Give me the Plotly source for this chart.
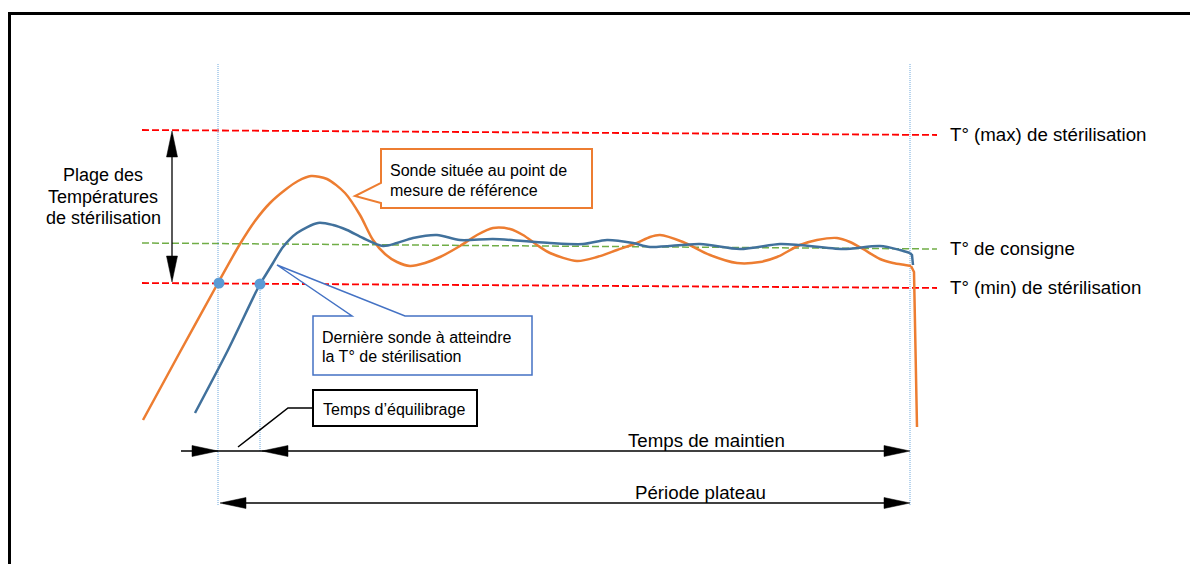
import plotly.graph_objects as go

# ---------------- data (schematic time / temperature values) ----------------
# Reference probe (orange) – time, temperature (screen-like units, axis reversed)
ref_t = [143, 180, 218, 240, 255, 270, 285, 298, 311, 327, 345, 360, 373, 385, 397, 410,
         425, 440, 460, 477, 493, 510, 523, 537, 550, 577, 597, 617, 637, 650, 660,
         683, 710, 737, 760, 777, 800, 817, 837, 850, 863, 880, 893, 905, 911]
ref_T = [420, 352, 283, 244, 221, 203, 190, 181, 176, 179, 193, 215, 240, 254, 262, 266,
         263, 257, 246, 235, 228, 229, 235, 245, 253, 261, 257, 250, 243, 237, 235,
         242, 255, 263, 262, 257, 245, 240, 238, 242, 249, 259, 263, 265, 266]
ref_drop_t = [911, 914, 917]
ref_drop_T = [266, 272, 427]

# Last probe to reach sterilisation temperature (blue)
last_t = [195, 228, 260, 265, 273, 283, 297, 318, 333, 347, 363, 383, 397, 413, 437,
          460, 493, 523, 550, 583, 607, 633, 650, 700, 740, 780, 800, 843, 880, 900, 910]
last_T = [413, 350, 284, 276, 263, 247, 233, 223, 225, 230, 238, 246, 243, 238, 235,
          240, 239, 241, 243, 244, 240, 243, 247, 244, 249, 244, 245, 249, 246, 250, 253]
last_drop_t = [910, 912, 913]
last_drop_T = [253, 255, 265]

# Crossing points with T(min)
cross_t = [219, 260]
cross_T = [283, 284]

# Reference temperature levels (left end, right end)
T_max = [130, 135]
T_set = [243, 249]
T_min = [283, 288]
level_t = [142, 937]

# Key times
t_plateau_start = 218
t_eq_end = 260
t_end = 910

# ---------------- styles ----------------
ORANGE = "#ED7D31"
BLUE_CURVE = "#41719C"
DOT_BLUE = "#5B9BD5"
FONT = "Liberation Sans, Arial, sans-serif"
BIG = 18.7
LEFT = 18
SMALL = 16

fig = go.Figure()

shapes = []
annotations = []

# frame
shapes.append(dict(type="line", x0=8, x1=1190, y0=13.5, y1=13.5,
                   line=dict(color="black", width=3), layer="below"))
shapes.append(dict(type="line", x0=9.5, x1=9.5, y0=12, y1=564,
                   line=dict(color="black", width=3), layer="below"))

# temperature levels
for lev, col, w in [(T_max, "#FF0000", 1.8), (T_min, "#FF0000", 1.8), (T_set, "#70AD47", 1.5)]:
    fig.add_trace(go.Scatter(x=level_t, y=lev, mode="lines",
                             line=dict(color=col, width=w, dash="7px,3px"),
                             hoverinfo="skip", showlegend=False))

# vertical dotted time markers
VDOT = dict(color="#6FA8DC", width=1, dash="1px,1px")
fig.add_trace(go.Scatter(x=[t_plateau_start, t_plateau_start], y=[64, 505], mode="lines",
                         line=VDOT, hoverinfo="skip", showlegend=False))
fig.add_trace(go.Scatter(x=[t_end, t_end], y=[64, 505], mode="lines",
                         line=VDOT, hoverinfo="skip", showlegend=False))
fig.add_trace(go.Scatter(x=[t_eq_end, t_eq_end], y=[cross_T[1], 451], mode="lines",
                         line=VDOT, hoverinfo="skip", showlegend=False))

# curves
fig.add_trace(go.Scatter(x=ref_t, y=ref_T, mode="lines",
                         line=dict(color=ORANGE, width=2.5, shape="spline", smoothing=0.8),
                         hoverinfo="skip", showlegend=False))
fig.add_trace(go.Scatter(x=ref_drop_t, y=ref_drop_T, mode="lines",
                         line=dict(color=ORANGE, width=2.5),
                         hoverinfo="skip", showlegend=False))
fig.add_trace(go.Scatter(x=last_t, y=last_T, mode="lines",
                         line=dict(color=BLUE_CURVE, width=2.5, shape="spline", smoothing=0.8),
                         hoverinfo="skip", showlegend=False))
fig.add_trace(go.Scatter(x=last_drop_t, y=last_drop_T, mode="lines",
                         line=dict(color=BLUE_CURVE, width=2.5),
                         hoverinfo="skip", showlegend=False))
fig.add_trace(go.Scatter(x=cross_t, y=cross_T, mode="markers",
                         marker=dict(color=DOT_BLUE, size=11),
                         hoverinfo="skip", showlegend=False))


# ---------------- arrows ----------------
def head(tx, ty, dx, dy, length=26, half=5.5):
    """Filled triangle arrow head with tip (tx,ty), pointing along (dx,dy)."""
    n = (dx * dx + dy * dy) ** 0.5
    ux, uy = dx / n, dy / n
    bx, by = tx - ux * length, ty - uy * length
    px, py = -uy * half, ux * half
    return dict(type="path",
                path=f"M{tx},{ty} L{bx + px},{by + py} L{bx - px},{by - py} Z",
                fillcolor="black", line=dict(color="black", width=0.5))


ARROW_LINE = dict(color="black", width=1.3)
# vertical double arrow: range of sterilisation temperatures
shapes.append(dict(type="line", x0=172, x1=172, y0=T_max[0] + 5, y1=T_min[0] - 5, line=ARROW_LINE))
shapes.append(head(172, T_max[0] + 1, 0, -1))
shapes.append(head(172, T_min[0] - 1, 0, 1))

# holding time line
y_hold = 451
shapes.append(dict(type="line", x0=181, x1=t_end - 5, y0=y_hold, y1=y_hold, line=ARROW_LINE))
shapes.append(head(t_plateau_start, y_hold, 1, 0))
shapes.append(head(t_eq_end + 2, y_hold, -1, 0))
shapes.append(head(t_end, y_hold, 1, 0))

# plateau period line
y_plat = 503
shapes.append(dict(type="line", x0=t_plateau_start + 5, x1=t_end - 5, y0=y_plat, y1=y_plat, line=ARROW_LINE))
shapes.append(head(t_plateau_start + 2, y_plat, -1, 0))
shapes.append(head(t_end, y_plat, 1, 0))

# ---------------- callouts ----------------
shapes.append(dict(type="path",
                   path="M381,149 L592,149 L592,208 L381,208 L381,203 L355,196 L381,183 Z",
                   fillcolor="white", line=dict(color=ORANGE, width=2)))
shapes.append(dict(type="path",
                   path="M313,316 L352,316 L277,265 L405,316 L532,316 L532,375 L313,375 Z",
                   fillcolor="white", line=dict(color="#4472C4", width=1.5)))
shapes.append(dict(type="rect", x0=313, x1=477, y0=390, y1=426,
                   fillcolor="white", line=dict(color="black", width=2)))
shapes.append(dict(type="path", path="M313,408 L288,408 L238,447",
                   line=dict(color="black", width=1.5)))


def txt(x, y, s, size=BIG, xanchor="left"):
    annotations.append(dict(x=x, y=y, text=s, showarrow=False, xanchor=xanchor,
                            yanchor="middle", font=dict(family=FONT, size=size, color="black")))


txt(388, 170, "Sonde située au point de", SMALL)
txt(388, 190, "mesure de référence", SMALL)
txt(320, 337, "Dernière sonde à atteindre", SMALL)
txt(320, 356, "la T° de stérilisation", SMALL)
txt(321, 409, "Temps d’équilibrage", SMALL)

txt(948, T_max[1] - 1, "T° (max) de stérilisation")
txt(948, T_set[1] - 1, "T° de consigne")
txt(948, T_min[1] - 1, "T° (min) de stérilisation")

txt(103, 175, "Plage des", LEFT, xanchor="center")
txt(103, 197, "Températures", LEFT, xanchor="center")
txt(103, 218, "de stérilisation", LEFT, xanchor="center")

txt(706, 440, "Temps de maintien", xanchor="center")
txt(700, 492, "Période plateau", xanchor="center")

fig.update_layout(
    width=1190, height=564,
    margin=dict(l=0, r=0, t=0, b=0),
    paper_bgcolor="white", plot_bgcolor="white",
    xaxis=dict(range=[0, 1190], visible=False, fixedrange=True),
    yaxis=dict(range=[564, 0], visible=False, fixedrange=True),
    shapes=shapes, annotations=annotations,
    showlegend=False, hovermode=False,
)

fig.write_html("out.html", config={"displayModeBar": False},
               post_script="document.body.style.margin='0';document.body.style.overflow='hidden';")
